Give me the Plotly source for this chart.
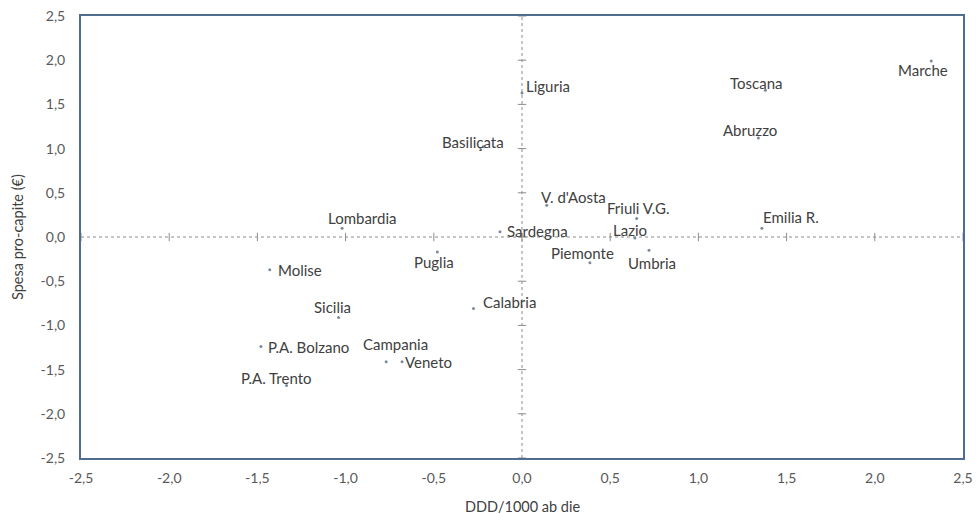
import plotly.graph_objects as go

regions = ["Marche", "Toscana", "Abruzzo", "Emilia R.", "Liguria", "Basiliçata",
           "V. d'Aosta", "Friuli V.G.", "Lazio", "Sardegna", "Piemonte", "Umbria",
           "Puglia", "Lombardia", "Molise", "Sicilia", "P.A. Bolzano", "P.A. Trento",
           "Campania", "Veneto", "Calabria"]
ddd = [2.32, 1.38, 1.34, 1.36, 0.00, -0.22,
       0.14, 0.65, 0.64, -0.125, 0.385, 0.72,
       -0.48, -1.02, -1.43, -1.04, -1.48, -1.335,
       -0.77, -0.68, -0.275]
spesa = [1.99, 1.66, 1.12, 0.10, 1.63, 1.02,
         0.36, 0.21, -0.01, 0.06, -0.29, -0.15,
         -0.17, 0.10, -0.37, -0.91, -1.24, -1.68,
         -1.41, -1.41, -0.81]

tick_vals = [-2.5, -2.0, -1.5, -1.0, -0.5, 0.0, 0.5, 1.0, 1.5, 2.0, 2.5]
tick_text = ["-2,5", "-2,0", "-1,5", "-1,0", "-0,5", "0,0", "0,5", "1,0", "1,5", "2,0", "2,5"]

x_title = "DDD/1000 ab die"
y_title = "Spesa pro-capite (€)"

# label offsets in pixels (dx right, dy down) for each region label
label_offsets = {
    "Marche": (-8, 9), "Toscana": (-9, -7), "Abruzzo": (-8, -8), "Emilia R.": (29, -11),
    "Liguria": (26, -7), "Basiliçata": (-10, -5), "V. d'Aosta": (27, -8),
    "Friuli V.G.": (1, -10), "Lazio": (-5, -8), "Sardegna": (38, -1),
    "Piemonte": (-7, -10), "Umbria": (3, 13), "Puglia": (-3, 10),
    "Lombardia": (20, -10), "Molise": (30, 0), "Sicilia": (-6, -10),
    "P.A. Bolzano": (48, 0), "P.A. Trento": (-10, -8), "Campania": (9, -18),
    "Veneto": (26, 0), "Calabria": (36, -7),
}

FONT = "Lato"
frame_color = "#4f6e8f"
text_color = "#404040"
zero_color = "#8c8c8c"

fig = go.Figure()

# dashed zero lines
fig.add_shape(type="line", x0=tick_vals[0], x1=tick_vals[-1], y0=0, y1=0,
              line=dict(color=zero_color, width=1, dash="dot"), layer="below")
fig.add_shape(type="line", x0=0, x1=0, y0=tick_vals[0], y1=tick_vals[-1],
              line=dict(color=zero_color, width=1, dash="dot"), layer="below")

# tick marks on zero lines
fig.add_trace(go.Scatter(x=tick_vals, y=[0] * len(tick_vals), mode="markers",
                         marker=dict(symbol="line-ns", size=6,
                                     line=dict(color=zero_color, width=1)),
                         hoverinfo="skip", showlegend=False))
fig.add_trace(go.Scatter(x=[0] * len(tick_vals), y=tick_vals, mode="markers",
                         marker=dict(symbol="line-ew", size=6,
                                     line=dict(color=zero_color, width=1)),
                         hoverinfo="skip", showlegend=False))

fig.add_trace(go.Scatter(x=ddd, y=spesa, mode="markers", text=regions,
                         marker=dict(size=3, color="#7a8a9a"),
                         showlegend=False))

for name, xv, yv in zip(regions, ddd, spesa):
    dx, dy = label_offsets[name]
    fig.add_annotation(x=xv, y=yv, text=name, showarrow=False,
                       xshift=dx, yshift=-dy, xanchor="center", yanchor="middle",
                       font=dict(family=FONT, size=15, color=text_color))

# axis titles
fig.add_annotation(xref="paper", yref="paper", x=0.5, y=0, yshift=-48,
                   xanchor="center", yanchor="middle",
                   text=x_title, showarrow=False,
                   font=dict(family=FONT, size=14.5, color=text_color))
fig.add_annotation(xref="paper", yref="paper", x=0, y=0.5, xshift=-64,
                   xanchor="center", yanchor="middle",
                   text=y_title, showarrow=False, textangle=-90,
                   font=dict(family=FONT, size=14.5, color=text_color))

fig.update_layout(
    width=976, height=514,
    margin=dict(l=81, r=13, t=16, b=56),
    paper_bgcolor="white", plot_bgcolor="white",
    font=dict(family=FONT, color=text_color),
    showlegend=False,
)
fig.update_xaxes(range=[-2.5, 2.5], tickvals=tick_vals, ticktext=tick_text,
                 showgrid=False, zeroline=False, showline=True, mirror=True,
                 linecolor=frame_color, linewidth=2, automargin=False,
                 ticks="outside", ticklen=6, tickcolor="rgba(0,0,0,0)",
                 tickfont=dict(family=FONT, size=14, color="#595959"))
fig.update_yaxes(range=[-2.5, 2.5], tickvals=tick_vals, ticktext=tick_text,
                 showgrid=False, zeroline=False, showline=True, mirror=True,
                 linecolor=frame_color, linewidth=2, automargin=False,
                 ticks="outside", ticklen=11, tickcolor="rgba(0,0,0,0)",
                 tickfont=dict(family=FONT, size=14, color="#595959"))

fig.write_html("out.html", config={"displayModeBar": False},
               post_script="document.body.style.margin='0';document.body.style.overflow='hidden';")
